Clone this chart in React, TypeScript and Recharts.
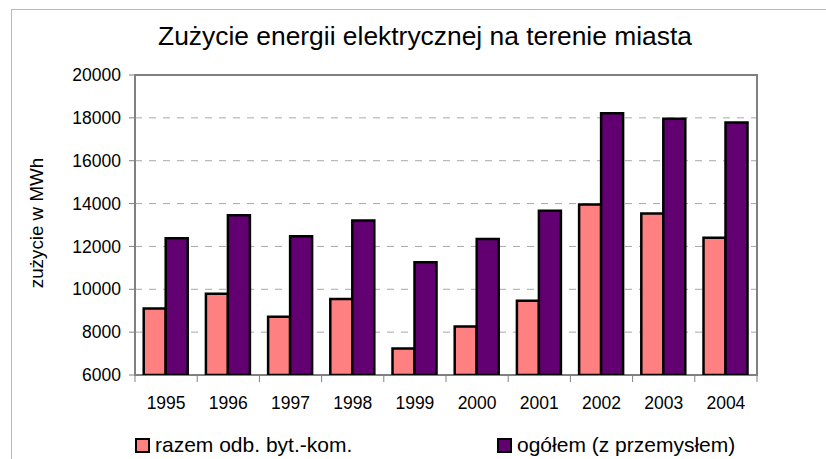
import React from "react";
import {
  Bar,
  BarChart,
  CartesianGrid,
  ReferenceArea,
  XAxis,
  YAxis,
} from "recharts";

const years = ["1995", "1996", "1997", "1998", "1999", "2000", "2001", "2002", "2003", "2004"];
const razem = [9100, 9790, 8720, 9550, 7240, 8265, 9460, 13960, 13540, 12410];
const ogolem = [12380, 13460, 12470, 13215, 11260, 12350, 13665, 18210, 17960, 17780];
const yTicks = [6000, 8000, 10000, 12000, 14000, 16000, 18000, 20000];

const chartData = years.map((y, i) => ({
  year: y,
  razem: razem[i],
  ogolem: ogolem[i],
}));

const W = 826;
const H = 459;
const xAxisHeight = 30;
const margin = { top: 75, right: 69, bottom: 84 - xAxisHeight, left: 0 };
const yAxisWidth = 135;
const plotWidth = W - margin.left - margin.right - yAxisWidth;
const band = plotWidth / years.length;

const font = "'Liberation Sans', Arial, sans-serif";
const pink = "#FF8080";
const purple = "#620072";

function YearTick(props: any) {
  const { x, y, payload, index } = props;
  const left = x - band / 2;
  return (
    <g>
      <line x1={left} y1={y} x2={left} y2={y + 7} stroke="#808080" strokeWidth={1} />
      {index === years.length - 1 && (
        <line x1={x + band / 2} y1={y} x2={x + band / 2} y2={y + 7} stroke="#808080" strokeWidth={1} />
      )}
      <text x={x} y={y + 34} textAnchor="middle" fontSize={17.5} fontFamily={font} fill="#000">
        {payload.value}
      </text>
    </g>
  );
}

function LegendItem({ color, label }: { color: string; label: string }) {
  return (
    <span style={{ display: "flex", alignItems: "center", gap: 5 }}>
      <span
        style={{
          width: 11,
          height: 11,
          background: color,
          border: "2px solid #000",
          display: "inline-block",
        }}
      />
      {label}
    </span>
  );
}

export default function App() {
  return (
    <div
      style={{
        position: "absolute",
        left: 0,
        top: 0,
        width: W,
        height: H,
        overflow: "hidden",
        background: "#fff",
        fontFamily: font,
      }}
    >
      <div
        style={{
          position: "absolute",
          left: 11,
          top: 9,
          width: W,
          height: H,
          border: "1px solid #b8b8b8",
        }}
      />
      <div
        style={{
          position: "absolute",
          left: 0,
          width: 850,
          top: 21,
          textAlign: "center",
          fontSize: 26.4,
          color: "#000",
        }}
      >
        Zużycie energii elektrycznej na terenie miasta
      </div>
      <div
        style={{
          position: "absolute",
          left: 37,
          top: 223,
          transform: "translate(-50%, -50%) rotate(-90deg)",
          fontSize: 18.8,
          whiteSpace: "nowrap",
          color: "#000",
        }}
      >
        zużycie w MWh
      </div>
      <div style={{ position: "absolute", left: 0, top: 0 }}>
        <BarChart
          width={W}
          height={H}
          data={chartData}
          margin={margin}
          barGap={0}
          barCategoryGap="14%"
        >
          <CartesianGrid
            vertical={false}
            stroke="#a8a8a8"
            strokeDasharray="7 7"
          />
          <XAxis
            dataKey="year"
            height={xAxisHeight}
            axisLine={false}
            tickLine={false}
            tickSize={0}
            tickMargin={0}
            tick={<YearTick />}
            interval={0}
          />
          <YAxis
            width={yAxisWidth}
            domain={[6000, 20000]}
            ticks={yTicks}
            allowDataOverflow
            axisLine={false}
            tickLine={{ stroke: "#808080" }}
            tickSize={6}
            tickMargin={8}
            tick={{ fill: "#000", fontSize: 17.5, fontFamily: font }}
          />
          <ReferenceArea
            y1={6000}
            y2={20000}
            fill="none"
            stroke="#808080"
            strokeWidth={2}
            ifOverflow="visible"
          />
          <Bar
            dataKey="razem"
            fill={pink}
            stroke="#000"
            strokeWidth={2.5}
            isAnimationActive={false}
          />
          <Bar
            dataKey="ogolem"
            fill={purple}
            stroke="#000"
            strokeWidth={2.5}
            isAnimationActive={false}
          />
        </BarChart>
      </div>
      <div
        style={{
          position: "absolute",
          left: 135,
          top: 433,
          fontSize: 21,
          color: "#000",
        }}
      >
        <LegendItem color={pink} label="razem odb. byt.-kom." />
      </div>
      <div
        style={{
          position: "absolute",
          left: 497,
          top: 433,
          fontSize: 21,
          color: "#000",
        }}
      >
        <LegendItem color={purple} label="ogółem (z przemysłem)" />
      </div>
    </div>
  );
}
